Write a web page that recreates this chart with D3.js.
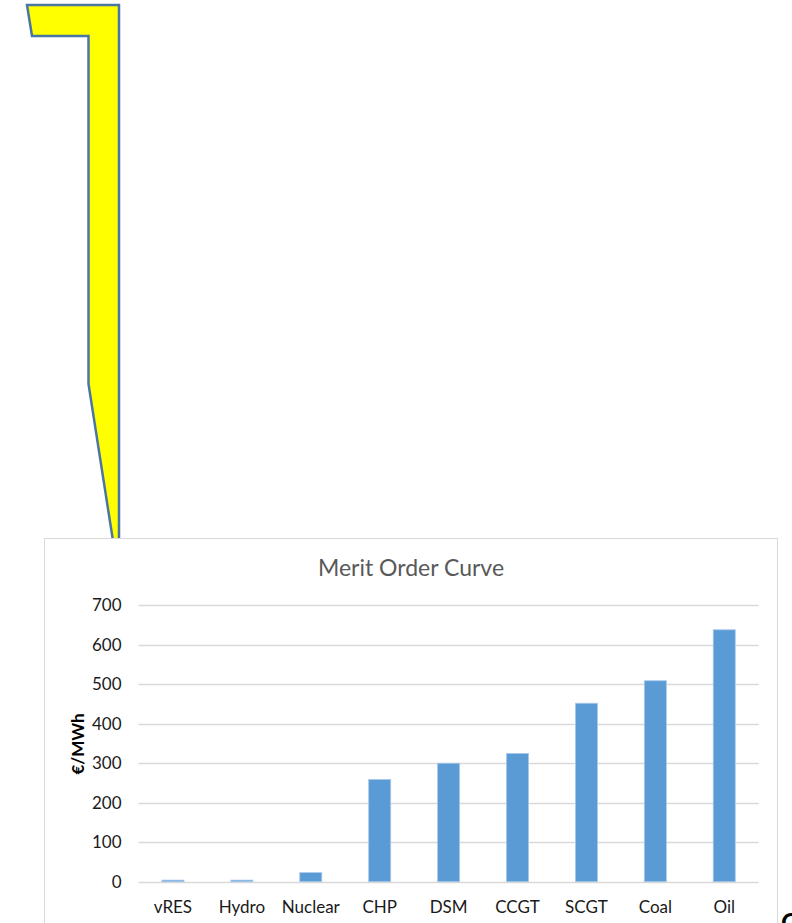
<!DOCTYPE html>
<style>
body {
  margin: 0;
  background: #fff;
  font-family: Lato, 'Open Sans', sans-serif;
}
.axis .domain {
  display: none;
}
</style>
<svg width="792" height="923"></svg>
<script src="https://d3js.org/d3.v7.min.js"></script>
<script>
// chart data
var categories = ["vRES", "Hydro", "Nuclear", "CHP", "DSM", "CCGT", "SCGT", "Coal", "Oil"];
var prices = [4, 4, 23, 259, 300, 325, 452, 509, 638];
var yTicks = [0, 100, 200, 300, 400, 500, 600, 700];

var svg = d3.select("svg"),
    width = +svg.attr("width"),
    height = +svg.attr("height");

// yellow callout shape behind the chart
var arrow = [[27, 5], [119, 5], [119, 560], [116, 560], [88.5, 384], [88.5, 36], [32, 36]];
svg.append("path")
    .attr("d", d3.line()(arrow) + "Z")
    .attr("fill", "#ffff00")
    .attr("stroke", "#4a76a3")
    .attr("stroke-width", 2.5)
    .attr("stroke-linejoin", "miter");

// chart area
svg.append("rect")
    .attr("x", 44.5)
    .attr("y", 538.5)
    .attr("width", 733)
    .attr("height", 420)
    .attr("fill", "#fff")
    .attr("stroke", "#d9d9d9");

var x = d3.scaleBand()
    .domain(categories)
    .range([138.5, 758.7])
    .paddingInner(0.68)
    .paddingOuter(0.34);

var y = d3.scaleLinear()
    .domain([0, 700])
    .range([881.7, 605.3]);

// gridlines
svg.append("g")
  .selectAll("line")
  .data(yTicks)
  .enter().append("line")
    .attr("x1", 138.5)
    .attr("x2", 758.7)
    .attr("y1", function(d) { return Math.round(y(d)) + 0.5; })
    .attr("y2", function(d) { return Math.round(y(d)) + 0.5; })
    .attr("stroke", "#d9d9d9")
    .attr("stroke-width", 1.5);

// y axis labels
var yAxis = svg.append("g")
    .attr("class", "axis")
    .attr("transform", "translate(138.5,0)")
    .call(d3.axisLeft(y).tickValues(yTicks).tickSize(0).tickPadding(17));
yAxis.selectAll("text")
    .attr("font-family", "Lato, sans-serif")
    .attr("font-size", 17)
    .attr("fill", "#1a1a1a");

// bars
svg.append("g")
  .selectAll("rect")
  .data(prices)
  .enter().append("rect")
    .attr("x", function(d, i) { return x(categories[i]); })
    .attr("y", function(d) { return y(d); })
    .attr("width", x.bandwidth())
    .attr("height", function(d) { return y(0) - y(d); })
    .attr("fill", "#5b9bd5")
    .attr("stroke", "#a9c9ec")
    .attr("stroke-width", 0.8);

// x axis labels
var xAxis = svg.append("g")
    .attr("class", "axis")
    .attr("transform", "translate(0,881.7)")
    .call(d3.axisBottom(x).tickSize(0).tickPadding(19));
xAxis.selectAll("text")
    .attr("font-family", "Lato, sans-serif")
    .attr("font-size", 17)
    .attr("fill", "#1a1a1a");

// title
svg.append("text")
    .attr("x", 411)
    .attr("y", 576)
    .attr("text-anchor", "middle")
    .attr("font-size", 23)
    .attr("fill", "#595959")
    .text("Merit Order Curve");

// y axis title
svg.append("text")
    .attr("transform", "translate(84,744) rotate(-90)")
    .attr("text-anchor", "middle")
    .attr("font-size", 17)
    .attr("font-weight", "bold")
    .attr("fill", "#000")
    .text("€/MWh");

// clipped glyph at the bottom right edge
svg.append("text")
    .attr("x", 781)
    .attr("y", 932)
    .attr("font-size", 26)
    .attr("font-weight", "bold")
    .attr("fill", "#000")
    .text("C");
</script>
